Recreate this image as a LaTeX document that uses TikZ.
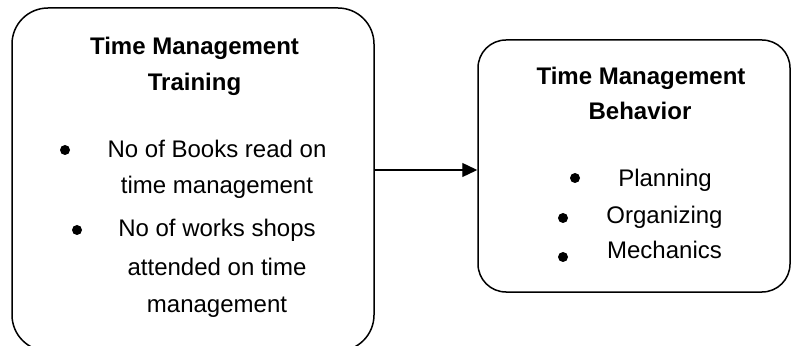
\documentclass[tikz,border=0pt]{standalone}
\usepackage{fontspec}
\setmainfont{Liberation Sans}
\usetikzlibrary{arrows.meta}

\tikzset{
  box/.style={draw, line width=1.5pt, rounded corners=36pt, inner sep=0pt},
  head/.style={anchor=base, inner sep=0pt, font=\fontsize{24}{28}\selectfont\bfseries},
  item/.style={anchor=base, inner sep=0pt, font=\fontsize{24}{28}\selectfont},
  dot/.style={circle, fill, inner sep=0pt, minimum size=10pt},
  link/.style={line width=1.3pt, -{Triangle[length=15pt,width=14pt]}}
}

\begin{document}
\begin{tikzpicture}[x=1pt,y=1pt]

	\useasboundingbox (0,0) rectangle (791,345);

	% the two boxes
	\node[box, minimum width=362pt, minimum height=343pt] (train) at (193,165.5) {};
	\node[box, rounded corners=28pt, minimum width=312pt, minimum height=252pt] (behav) at (634,179) {};

	% left box
	\node[head] (trainA) at (194.5,290) {Time Management};
	\node[head] (trainB) at (194.5,254.5) {Training};

	\node[dot] (bookdot) at (65,195) {};
	\node[item] (bookA) at (217,187) {No of Books read on};
	\node[item] (bookB) at (217,151) {time management};

	\node[dot] (shopdot) at (77,115) {};
	\node[item] (shopA) at (217,108) {No of works shops};
	\node[item] (shopB) at (217,70) {attended on time};
	\node[item] (shopC) at (217,33) {management};

	% right box
	\node[head] (behavA) at (641,260) {Time Management};
	\node[head] (behavB) at (640,225) {Behavior};

	\node[dot] (plandot) at (575,167) {};
	\node[item] (plan) at (665,158) {Planning};
	\node[dot] (orgdot) at (563,127) {};
	\node[item] (org) at (664.5,121) {Organizing};
	\node[dot] (mechdot) at (563,88) {};
	\node[item] (mech) at (664.5,86) {Mechanics};

	% arrow
	\coordinate (mid) at (426,175);
	\draw[link] (train.east |- mid) -- (behav.west |- mid);

\end{tikzpicture}
\end{document}
